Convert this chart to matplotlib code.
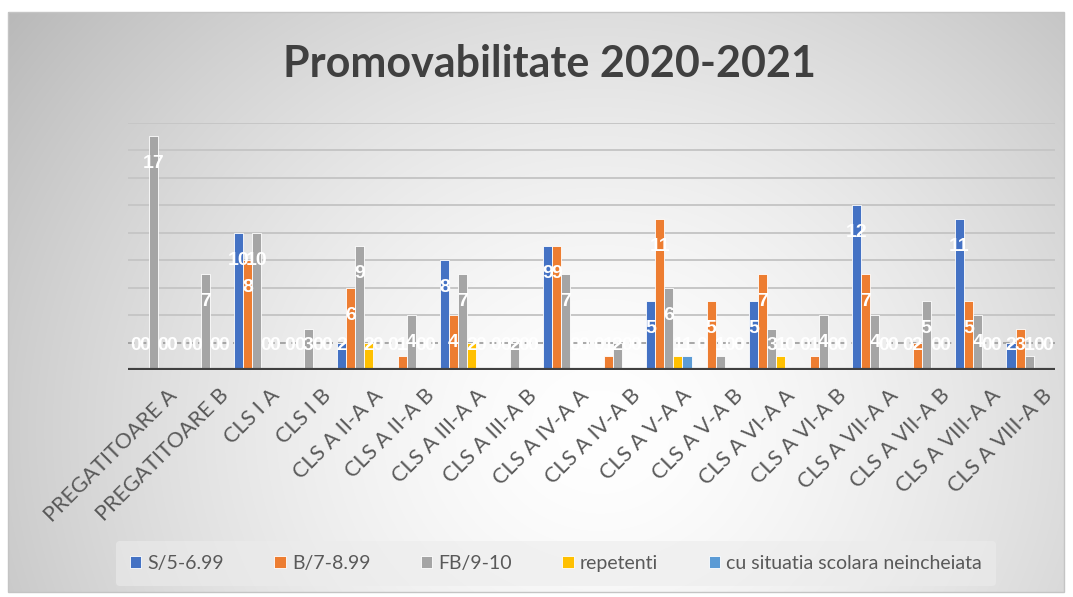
import numpy as np
import matplotlib.pyplot as plt
from matplotlib.patches import Rectangle

# ================= DATA =================
classes = [
    "PREGATITOARE A", "PREGATITOARE B", "CLS I A", "CLS I B",
    "CLS A II-A A", "CLS A II-A B", "CLS A III-A A", "CLS A III-A B",
    "CLS A IV-A A", "CLS A IV-A B", "CLS A V-A A", "CLS A V-A B",
    "CLS A VI-A A", "CLS A VI-A B", "CLS A VII-A A", "CLS A VII-A B",
    "CLS A VIII-A A", "CLS A VIII-A B",
]
s_5_699 = [0, 0, 10, 0, 2, 0, 8, 0, 9, 0, 5, 0, 5, 0, 12, 0, 11, 2]
b_7_899 = [0, 0, 8, 0, 6, 1, 4, 0, 9, 1, 11, 5, 7, 1, 7, 2, 5, 3]
fb_9_10 = [17, 7, 10, 3, 9, 4, 7, 2, 7, 2, 6, 1, 3, 4, 4, 5, 4, 1]
repetenti = [0, 0, 0, 0, 2, 0, 2, 0, 0, 0, 1, 0, 1, 0, 0, 0, 0, 0]
neincheiata = [0, 0, 0, 0, 0, 0, 0, 0, 0, 0, 1, 0, 0, 0, 0, 0, 0, 0]

series_names = ["S/5-6.99", "B/7-8.99", "FB/9-10", "repetenti",
                "cu situatia scolara neincheiata"]
colors = ["#4472C4", "#ED7D31", "#A5A5A5", "#FFC000", "#5B9BD5"]
series = [s_5_699, b_7_899, fb_9_10, repetenti, neincheiata]

# ================= FIGURE =================
W, H = 1073, 597
fig = plt.figure(figsize=(W / 100, H / 100), dpi=100)
fig.patch.set_facecolor("white")

# radial gradient background
bg = fig.add_axes([0, 0, 1, 1], zorder=-10)
yy, xx = np.mgrid[0:H, 0:W]
d = np.sqrt((xx - 600) ** 2 + ((yy - 430) * 1.1) ** 2) / 720
g = np.clip(1 - 0.26 * d ** 1.5, 0, 1)
img = np.dstack([g, g, g])
img[:12, :, :] = 1
img[:, :8, :] = 1
img[592:, :, :] = 1
img[:, 1064:, :] = 1
bg.imshow(img, extent=[0, W, H, 0], aspect="auto", interpolation="bilinear")
bg.add_patch(Rectangle((8, 12), 1056, 580, fill=False, ec="#c4c4c4", lw=1))
bg.set_xlim(0, W)
bg.set_ylim(H, 0)
bg.axis("off")

ax = fig.add_axes([128 / W, 1 - 370 / H, 927 / W, (370 - 122.7) / H])
ax.patch.set_alpha(0)

x = np.arange(len(classes))
w = 0.177

for val in range(4, 19, 2):
    ax.axhline(val, color="#c6c6c6", lw=1.4, zorder=1)
ax.axhline(2, color="#9a9a9a", lw=1.2, ls=(0, (4, 3)), zorder=1)

for i, (vals, col) in enumerate(zip(series, colors)):
    pos = x + (i - 2) * w
    ax.bar(pos, vals, width=w, color=col, edgecolor="white", lw=0.6,
           label=series_names[i], zorder=2)
    for px, v in zip(pos, vals):
        ax.text(px, max(v - 2, 1.75), str(v), color="white",
                fontsize=14, fontweight="bold", family="Liberation Sans",
                ha="center", va="center", zorder=5)

ax.axhline(0, color="#404040", lw=3, zorder=4)
ax.set_xlim(-0.5, len(classes) - 0.5)
ax.set_ylim(0, 18)
ax.set_yticks([])
ax.set_xticks(x + 0.25)
ax.set_xticklabels(classes, rotation=45, ha="right", va="top",
                   rotation_mode="anchor", fontsize=15.5, color="#595959",
                   family="Lato")
ax.tick_params(axis="x", length=0, pad=11)
for sp in ax.spines.values():
    sp.set_visible(False)

fig.text(0.512, 0.893, "Promovabilitate 2020-2021", ha="center", va="center",
         fontsize=31, fontweight="bold", color="#404040", family="Lato")

leg = fig.legend(loc="center", bbox_to_anchor=(0.518, 0.056), ncol=5,
                 frameon=True, handlelength=0.6,
                 handleheight=0.6, handletextpad=0.3, columnspacing=2.6,
                 borderpad=0.7,
                 prop={"family": "Lato", "size": 14})
leg.get_frame().set_facecolor("#ececec")
leg.get_frame().set_edgecolor("none")
leg.get_frame().set_alpha(0.6)
for t in leg.get_texts():
    t.set_color("#595959")

fig.savefig("out.png", dpi=100)
